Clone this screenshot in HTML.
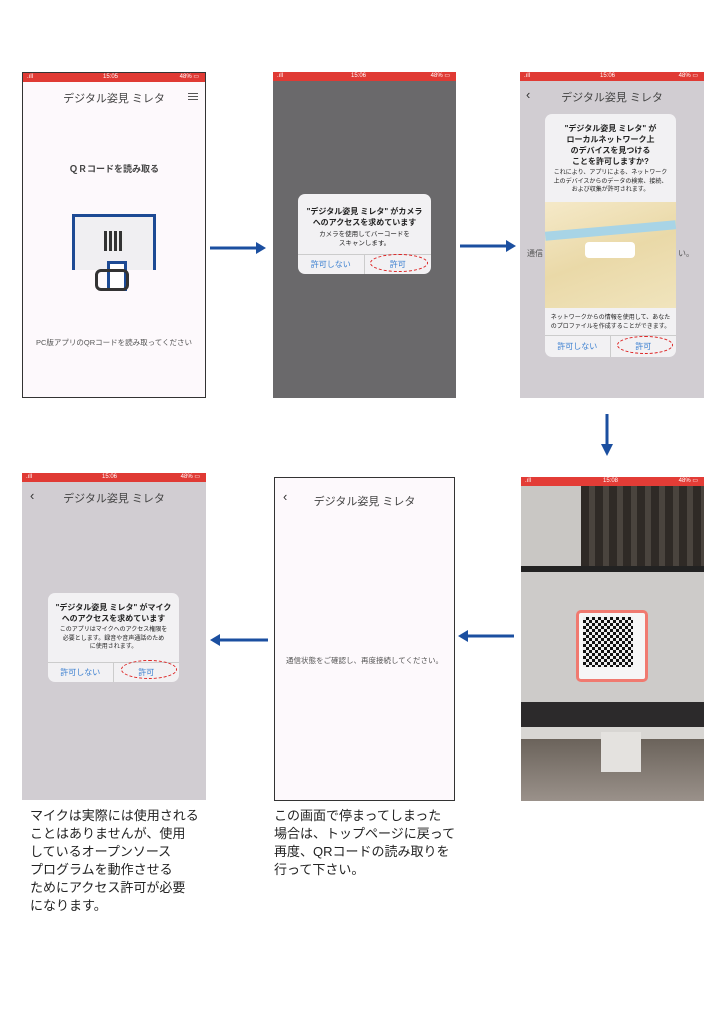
<!DOCTYPE html>
<html><head><meta charset="utf-8"><style>
*{margin:0;padding:0;box-sizing:border-box}
body{width:724px;height:1024px;background:#fff;position:relative;overflow:hidden;font-family:"Liberation Sans","Noto Sans CJK JP",sans-serif;color:#333}
.a{position:absolute}
.sb{position:absolute;left:0;right:0;top:0;height:9px;background:#e03a34;color:#fff;font-size:6px;line-height:9px}
.t{position:absolute;left:0;right:0;text-align:center;font-size:11px;color:#444}
.dlg{position:absolute;background:#f2f1f3;border-radius:7px;text-align:center;font-size:8px;color:#222;overflow:hidden}
.btn{position:absolute;bottom:0;height:20px;width:50%;font-size:8px;color:#3a7fd0;line-height:20px;text-align:center;border-top:1px solid #ccc}
.ov{position:absolute;border:1px dashed #d22;border-radius:50%}
.txt{position:absolute;font-size:13px;line-height:18px;color:#222}
</style></head><body>

<!-- Screen 1 -->
<div class="a" style="left:22px;top:72px;width:184px;height:326px;border:1px solid #333;background:#fdf9fc">
 <div class="sb"><span class="a" style="left:4px">.ıll</span><span class="a" style="left:80px">15:05</span><span class="a" style="right:6px">48% ▭</span></div>
 <div class="t" style="top:17px;font-size:11px">デジタル姿見 ミレタ</div>
 <div class="a" style="right:7px;top:20px;width:10px;height:7px;border-top:1px solid #555;border-bottom:1px solid #555"><div style="margin-top:2px;border-top:1px solid #555"></div></div>
 <div class="t" style="top:89px;font-size:9px;font-weight:bold">ＱＲコードを読み取る</div>
 <div class="a" style="left:49px;top:141px;width:84px;height:56px;background:#f0eff2;border:3px solid #1d4a94;border-bottom:none"></div>
 <div class="a" style="left:81px;top:158px;width:20px;height:20px;background:repeating-linear-gradient(90deg,#333 0 3px,#eee 3px 5px)"></div>
 <div class="a" style="left:84px;top:188px;width:20px;height:30px;border:3px solid #1d4a94;background:#fff"></div>
 <div class="a" style="left:72px;top:196px;width:34px;height:22px;border:3px solid #333;border-radius:6px"></div>
 <div class="t" style="top:264px;font-size:7.5px;color:#555">PC版アプリのQRコードを読み取ってください</div>
</div>

<!-- arrow 1 -->
<svg class="a" style="left:208px;top:240px" width="60" height="16"><line x1="2" y1="8" x2="50" y2="8" stroke="#1b4fa0" stroke-width="3"/><polygon points="48,2 58,8 48,14" fill="#1b4fa0"/></svg>

<!-- Screen 2 -->
<div class="a" style="left:273px;top:72px;width:183px;height:326px;background:#6a696b">
 <div class="sb"><span class="a" style="left:4px">.ıll</span><span class="a" style="left:78px">15:06</span><span class="a" style="right:6px">48% ▭</span></div>
 <div class="dlg" style="left:25px;top:122px;width:133px;height:80px">
  <div style="margin-top:12px;font-weight:bold;line-height:11px">"デジタル姿見 ミレタ" がカメラ<br>へのアクセスを求めています</div>
  <div style="font-size:6.5px;line-height:9px;margin-top:2px">カメラを使用してバーコードを<br>スキャンします。</div>
  <div class="btn" style="left:0;border-right:1px solid #ccc">許可しない</div>
  <div class="btn" style="right:0">許可</div>
  <div class="ov" style="left:72px;top:60px;width:58px;height:18px"></div>
 </div>
</div>

<!-- arrow 2 -->
<svg class="a" style="left:458px;top:238px" width="60" height="16"><line x1="2" y1="8" x2="50" y2="8" stroke="#1b4fa0" stroke-width="3"/><polygon points="48,2 58,8 48,14" fill="#1b4fa0"/></svg>

<!-- Screen 3 -->
<div class="a" style="left:520px;top:72px;width:184px;height:326px;background:#d1cdd2">
 <div class="sb"><span class="a" style="left:4px">.ıll</span><span class="a" style="left:80px">15:06</span><span class="a" style="right:6px">48% ▭</span></div>
 <div class="a" style="left:6px;top:15px;font-size:13px;color:#333">‹</div>
 <div class="t" style="top:17px">デジタル姿見 ミレタ</div>
 <div class="a" style="left:7px;top:176px;font-size:8px;color:#555">通信</div>
 <div class="a" style="right:10px;top:176px;font-size:8px;color:#555">い。</div>
 <div class="dlg" style="left:25px;top:42px;width:131px;height:243px">
  <div style="margin-top:9px;font-weight:bold;line-height:11px">"デジタル姿見 ミレタ" が<br>ローカルネットワーク上<br>のデバイスを見つける<br>ことを許可しますか?</div>
  <div style="font-size:6px;line-height:8.5px;margin-top:2px">これにより、アプリによる、ネットワーク<br>上のデバイスからのデータの検索、接続、<br>および収集が許可されます。</div>
  <div class="a" style="left:0;top:88px;width:131px;height:106px;background:linear-gradient(160deg,#f5e9c8,#ead9a8 50%,#f0e4bd);"></div>
  <div class="a" style="left:0;top:112px;width:131px;height:9px;background:#a8d4e6;transform:rotate(-5deg)"></div>
  <div class="a" style="left:40px;top:128px;width:50px;height:16px;background:#fff;border-radius:4px"></div>
  <div class="a" style="left:0;top:200px;width:131px;font-size:6px;line-height:8.5px">ネットワークからの情報を使用して、あなた<br>のプロファイルを作成することができます。</div>
  <div class="btn" style="left:0;height:22px;line-height:22px;border-right:1px solid #ccc">許可しない</div>
  <div class="btn" style="right:0;height:22px;line-height:22px">許可</div>
  <div class="ov" style="left:72px;top:222px;width:56px;height:18px"></div>
 </div>
</div>

<!-- down arrow -->
<svg class="a" style="left:598px;top:412px" width="18" height="46"><line x1="9" y1="2" x2="9" y2="34" stroke="#1b4fa0" stroke-width="3"/><polygon points="3,32 15,32 9,44" fill="#1b4fa0"/></svg>

<!-- Screen 4 photo -->
<div class="a" style="left:521px;top:477px;width:183px;height:324px;background:#3a3633;overflow:hidden">
 <div class="a" style="left:0;top:9px;width:60px;height:80px;background:#c9c7c4"></div>
 <div class="a" style="left:60px;top:9px;width:123px;height:80px;background:repeating-linear-gradient(90deg,#2f2a26 0 8px,#4a443e 8px 14px)"></div>
 <div class="a" style="left:0;top:89px;width:183px;height:6px;background:#222"></div>
 <div class="a" style="left:0;top:95px;width:183px;height:130px;background:#cdcbc9"></div>
 <div class="a" style="left:55px;top:133px;width:72px;height:72px;background:#f6f6f6;border-radius:5px;border:3px solid #f07a70"></div>
 <div class="a" style="left:62px;top:140px;width:50px;height:50px;background:repeating-conic-gradient(#111 0 25%,#eee 0 50%) 0 0/6px 6px"></div>
 <div class="a" style="left:0;top:225px;width:183px;height:25px;background:#2c2a2b"></div>
 <div class="a" style="left:0;top:250px;width:183px;height:12px;background:#d8d6d3"></div>
 <div class="a" style="left:0;top:262px;width:183px;height:62px;background:linear-gradient(#6b635b,#9a918a)"></div>
 <div class="a" style="left:80px;top:255px;width:40px;height:40px;background:#e4e2df"></div>
 <div class="sb" style="background:#e33c36"><span class="a" style="left:4px">.ıll</span><span class="a" style="left:82px">15:08</span><span class="a" style="right:6px">48% ▭</span></div>
</div>

<!-- left arrow bottom right -->
<svg class="a" style="left:456px;top:628px" width="60" height="16"><line x1="10" y1="8" x2="58" y2="8" stroke="#1b4fa0" stroke-width="3"/><polygon points="12,2 2,8 12,14" fill="#1b4fa0"/></svg>

<!-- Screen 5 -->
<div class="a" style="left:274px;top:477px;width:181px;height:324px;border:1px solid #333;background:#fdf9fc">
 <div class="a" style="left:8px;top:11px;font-size:13px;color:#333">‹</div>
 <div class="t" style="top:15px">デジタル姿見 ミレタ</div>
 <div class="t" style="top:177px;font-size:7.5px;color:#555">通信状態をご確認し、再度接続してください。</div>
</div>

<!-- left arrow bottom left -->
<svg class="a" style="left:208px;top:632px" width="62" height="16"><line x1="10" y1="8" x2="60" y2="8" stroke="#1b4fa0" stroke-width="3"/><polygon points="12,2 2,8 12,14" fill="#1b4fa0"/></svg>

<!-- Screen 6 -->
<div class="a" style="left:22px;top:473px;width:184px;height:327px;background:#d1cdd2">
 <div class="sb"><span class="a" style="left:4px">.ıll</span><span class="a" style="left:80px">15:06</span><span class="a" style="right:6px">48% ▭</span></div>
 <div class="a" style="left:8px;top:15px;font-size:13px;color:#333">‹</div>
 <div class="t" style="top:17px">デジタル姿見 ミレタ</div>
 <div class="dlg" style="left:26px;top:120px;width:131px;height:89px">
  <div style="margin-top:9px;font-weight:bold;line-height:11px">"デジタル姿見 ミレタ" がマイク<br>へのアクセスを求めています</div>
  <div style="font-size:6px;line-height:8.5px;margin-top:2px">このアプリはマイクへのアクセス権限を<br>必要とします。録音や音声通話のため<br>に使用されます。</div>
  <div class="btn" style="left:0;border-right:1px solid #ccc">許可しない</div>
  <div class="btn" style="right:0">許可</div>
  <div class="ov" style="left:73px;top:67px;width:56px;height:19px"></div>
 </div>
</div>

<div class="txt" style="left:30px;top:807px">マイクは実際には使用される<br>ことはありませんが、使用<br>しているオープンソース<br>プログラムを動作させる<br>ためにアクセス許可が必要<br>になります。</div>
<div class="txt" style="left:274px;top:807px">この画面で停まってしまった<br>場合は、トップページに戻って<br>再度、QRコードの読み取りを<br>行って下さい。</div>
</body></html>
